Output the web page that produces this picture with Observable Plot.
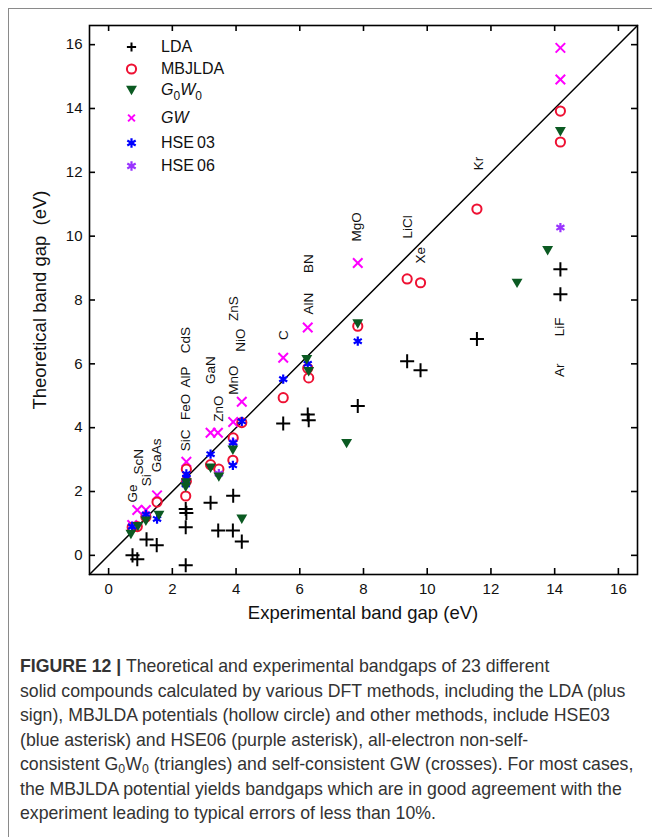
<!DOCTYPE html>
<html><head><meta charset="utf-8">
<script src="https://cdn.jsdelivr.net/npm/d3@7"></script>
<script src="https://cdn.jsdelivr.net/npm/@observablehq/plot@0.6"></script>
<style>
body{margin:0;background:#fff;font-family:"Liberation Sans",Arial,sans-serif;}
#wrap{position:relative;width:652px;height:837px;overflow:hidden;background:#fff;}
#border{position:absolute;left:8px;top:8px;width:700px;height:900px;border-top:1px solid #8a8a8a;border-left:1px solid #8a8a8a;}
#chart{position:absolute;left:0;top:0;}
.ttl{position:absolute;font-size:18.5px;color:#111;white-space:nowrap;}
#xt{left:363px;top:613px;transform:translate(-50%,-50%);}
#yt{left:40px;top:300px;transform:translate(-50%,-50%) rotate(-90deg);}
#legend{position:absolute;left:0;top:0;}
.lg{position:absolute;left:161px;font-size:16px;color:#111;white-space:nowrap;transform:translateY(-50%);}
#caption{position:absolute;left:20px;top:654px;font-size:17.7px;line-height:24.5px;color:#333;white-space:nowrap;}
#caption sub{font-size:70%;line-height:0;vertical-align:-0.25em;}
</style></head>
<body>
<div id="wrap">
<div id="border"></div>
<div id="chart"></div>
<div class="ttl" id="xt">Experimental band gap (eV)</div>
<div class="ttl" id="yt">Theoretical band gap&nbsp; (eV)</div>
<div id="legend"></div>
<div id="caption"><b>FIGURE 12 |</b> Theoretical and experimental bandgaps of 23 different<br>solid compounds calculated by various DFT methods, including the LDA (plus<br>sign), MBJLDA potentials (hollow circle) and other methods, include HSE03<br>(blue asterisk) and HSE06 (purple asterisk), all-electron non-self-<br>consistent G<sub>0</sub>W<sub>0</sub> (triangles) and self-consistent GW (crosses). For most cases,<br>the MBJLDA potential yields bandgaps which are in good agreement with the<br>experiment leading to typical errors of less than 10%.</div>
</div>
<script>
// ---- data ----
const axisDomain = [-0.6, 16.6];
const tickValues = [0, 2, 4, 6, 8, 10, 12, 14, 16];

const ldaX = [0.75, 0.90, 1.19, 1.51, 2.42, 2.44, 2.42, 2.42, 3.20, 3.44, 3.90, 3.91, 4.18, 5.48, 6.25, 6.28, 7.82, 9.37, 9.79, 11.56, 14.18, 14.18];
const ldaY = [0.00, -0.12, 0.50, 0.32, 1.45, 1.33, 0.88, -0.31, 1.65, 0.78, 0.78, 1.87, 0.43, 4.13, 4.41, 4.23, 4.68, 6.08, 5.80, 6.78, 8.96, 8.18];

const mbjX = [0.74, 0.90, 1.17, 1.52, 2.42, 2.44, 2.44, 3.20, 3.46, 3.90, 3.91, 4.18, 5.48, 6.25, 6.28, 7.82, 9.37, 9.79, 11.56, 14.18, 14.18];
const mbjY = [0.88, 0.90, 1.20, 1.67, 1.86, 2.32, 2.70, 2.84, 2.70, 2.98, 3.68, 4.16, 4.94, 5.86, 5.56, 7.18, 8.66, 8.54, 10.85, 13.92, 12.95];

const g0w0X = [0.70, 0.92, 1.17, 1.58, 2.42, 2.44, 3.20, 3.46, 3.90, 4.18, 6.22, 6.28, 7.82, 7.47, 12.82, 13.78, 14.18];
const g0w0Y = [0.70, 0.95, 1.12, 1.30, 2.18, 2.32, 2.78, 2.50, 3.34, 1.18, 6.18, 5.80, 7.30, 3.55, 8.57, 9.59, 13.32];

const gwX = [0.74, 0.90, 1.17, 1.52, 2.44, 3.20, 3.43, 3.91, 4.18, 5.48, 6.25, 7.82, 14.18, 14.18];
const gwY = [0.95, 1.42, 1.42, 1.88, 2.93, 3.84, 3.84, 4.18, 4.81, 6.19, 7.14, 9.16, 15.90, 14.91];

const hse03X = [0.74, 1.17, 1.52, 2.42, 2.44, 2.44, 3.20, 3.90, 3.91, 4.18, 5.48, 6.25, 7.82];
const hse03Y = [0.90, 1.28, 1.14, 2.22, 2.42, 2.55, 3.17, 2.82, 3.52, 4.20, 5.52, 6.00, 6.71];

const hse06X = [0.74, 1.17, 2.42, 3.46, 3.90, 14.18];
const hse06Y = [0.92, 1.22, 2.30, 2.56, 3.55, 10.27];

const labelText = ["Ge", "Si", "ScN", "GaAs", "SiC", "FeO", "AlP", "CdS", "GaN", "ZnO", "MnO", "NiO", "ZnS", "C", "AlN", "BN", "MgO", "LiCl", "Xe", "Kr", "LiF", "Ar"];
const labelX = [0.76, 1.18, 0.95, 1.51, 2.42, 2.42, 2.42, 2.42, 3.20, 3.46, 3.92, 4.14, 3.92, 5.48, 6.27, 6.27, 7.80, 9.40, 9.79, 11.60, 14.17, 14.17];
const labelY = [1.94, 2.35, 2.93, 3.13, 3.60, 4.65, 5.59, 6.74, 5.80, 4.60, 5.49, 6.74, 7.73, 6.90, 7.89, 9.14, 10.29, 10.29, 9.40, 12.28, 7.16, 5.80];

const seriesNames = ["LDA", "MBJLDA", "G0W0", "GW", "HSE 03", "HSE 06"];
const seriesColors = ["#000000", "#ee1133", "#0b5a22", "#ff00ff", "#0000ff", "#9933ff"];

// ---- build ----
const W = 652, H = 640, mL = 89, mR = 15, mT = 25, mB = 66;
const pts = (X, Y) => X.map((x, i) => ({x, y: Y[i]}));
const labels = labelText.map((t, i) => ({t, x: labelX[i], y: labelY[i]}));
// inward tick length, 6px expressed in data units
const span = axisDomain[1] - axisDomain[0];
const tx = 6 * span / (W - mL - mR);
const ty = 6 * span / (H - mT - mB);
const lo = axisDomain[0], hi = axisDomain[1];
const tk = {stroke: "#000", strokeWidth: 1.6};

const chart = Plot.plot({
  width: W, height: H,
  marginLeft: mL, marginRight: mR, marginTop: mT, marginBottom: mB,
  x: {domain: axisDomain, axis: null},
  y: {domain: axisDomain, axis: null},
  style: {fontFamily: "'Liberation Sans', Arial, sans-serif", fontSize: "15px", color: "#111", background: "transparent"},
  marks: [
    Plot.line(axisDomain.map(v => ({x: v, y: v})), {x: "x", y: "y", stroke: "#000", strokeWidth: 1.5}),
    // inward ticks on all four sides
    Plot.ruleX(tickValues, {x: d => d, y1: lo, y2: lo + ty, ...tk}),
    Plot.ruleX(tickValues, {x: d => d, y1: hi - ty, y2: hi, ...tk}),
    Plot.ruleY(tickValues, {y: d => d, x1: lo, x2: lo + tx, ...tk}),
    Plot.ruleY(tickValues, {y: d => d, x1: hi - tx, x2: hi, ...tk}),
    Plot.axisX(tickValues, {anchor: "bottom", tickSize: 0, tickPadding: 9, label: null}),
    Plot.axisY(tickValues, {anchor: "left", tickSize: 0, tickPadding: 7, label: null}),
    Plot.text(labels, {x: "x", y: "y", text: "t", rotate: -90, fontSize: 13.5, fill: "#111", textAnchor: "middle"}),
    Plot.dot(pts(ldaX, ldaY), {x: "x", y: "y", symbol: "plus", r: 4.6, stroke: seriesColors[0], strokeWidth: 2}),
    Plot.dot(pts(gwX, gwY), {x: "x", y: "y", symbol: "times", r: 4.4, stroke: seriesColors[3], strokeWidth: 2}),
    Plot.dot(pts(mbjX, mbjY), {x: "x", y: "y", symbol: "circle", r: 4.6, stroke: seriesColors[1], strokeWidth: 2, fill: "none"}),
    Plot.dot(pts(hse06X, hse06Y), {x: "x", y: "y", symbol: "asterisk", r: 4.4, stroke: seriesColors[5], strokeWidth: 2.2}),
    Plot.dot(pts(hse03X, hse03Y), {x: "x", y: "y", symbol: "asterisk", r: 4.4, stroke: seriesColors[4], strokeWidth: 2.2}),
    Plot.dot(pts(g0w0X, g0w0Y), {x: "x", y: "y", symbol: "triangle2", rotate: 180, r: 5.2, fill: seriesColors[2], stroke: "none"}),
    Plot.frame({stroke: "#000", strokeWidth: 1.6})
  ]
});
document.getElementById("chart").appendChild(chart);

// ---- legend (inside plot, top-left) ----
const legendRows = [47, 69, 89, 118, 143, 166];
const lsvg = d3.select("#legend").append("svg").attr("width", 300).attr("height", 200).style("position", "absolute").style("left", "0px").style("top", "0px");
const symPath = (type, size) => d3.symbol(type, size)();
lsvg.append("path").attr("transform", `translate(131.5,${legendRows[0]})`).attr("d", "M-4.6,0H4.6M0,-4.6V4.6").attr("stroke", seriesColors[0]).attr("stroke-width", 2).attr("fill", "none");
lsvg.append("circle").attr("cx", 131.5).attr("cy", legendRows[1]).attr("r", 4.6).attr("stroke", seriesColors[1]).attr("stroke-width", 2).attr("fill", "none");
lsvg.append("path").attr("transform", `translate(131.5,${legendRows[2]}) rotate(180)`).attr("d", symPath(d3.symbolTriangle2, 85)).attr("fill", seriesColors[2]);
lsvg.append("path").attr("transform", `translate(131.5,${legendRows[3]})`).attr("d", "M-3.4,-3.4L3.4,3.4M-3.4,3.4L3.4,-3.4").attr("stroke", seriesColors[3]).attr("stroke-width", 2).attr("fill", "none");
lsvg.append("path").attr("transform", `translate(131.5,${legendRows[4]})`).attr("d", symPath(d3.symbolAsterisk, 66)).attr("stroke", seriesColors[4]).attr("stroke-width", 2.2).attr("fill", "none");
lsvg.append("path").attr("transform", `translate(131.5,${legendRows[5]})`).attr("d", symPath(d3.symbolAsterisk, 66)).attr("stroke", seriesColors[5]).attr("stroke-width", 2.2).attr("fill", "none");

const legendHTML = [
  "LDA", "MBJLDA",
  "<i>G</i><sub style='font-size:75%'>0</sub><i>W</i><sub style='font-size:75%'>0</sub>",
  "<i>GW</i>", "HSE&#8201;03", "HSE&#8201;06"
];
legendHTML.forEach((h, i) => {
  const d = document.createElement("div");
  d.className = "lg";
  d.style.top = (legendRows[i] + (i === 2 ? 3 : 0)) + "px";
  d.innerHTML = h;
  document.getElementById("legend").appendChild(d);
});
</script>
</body></html>
